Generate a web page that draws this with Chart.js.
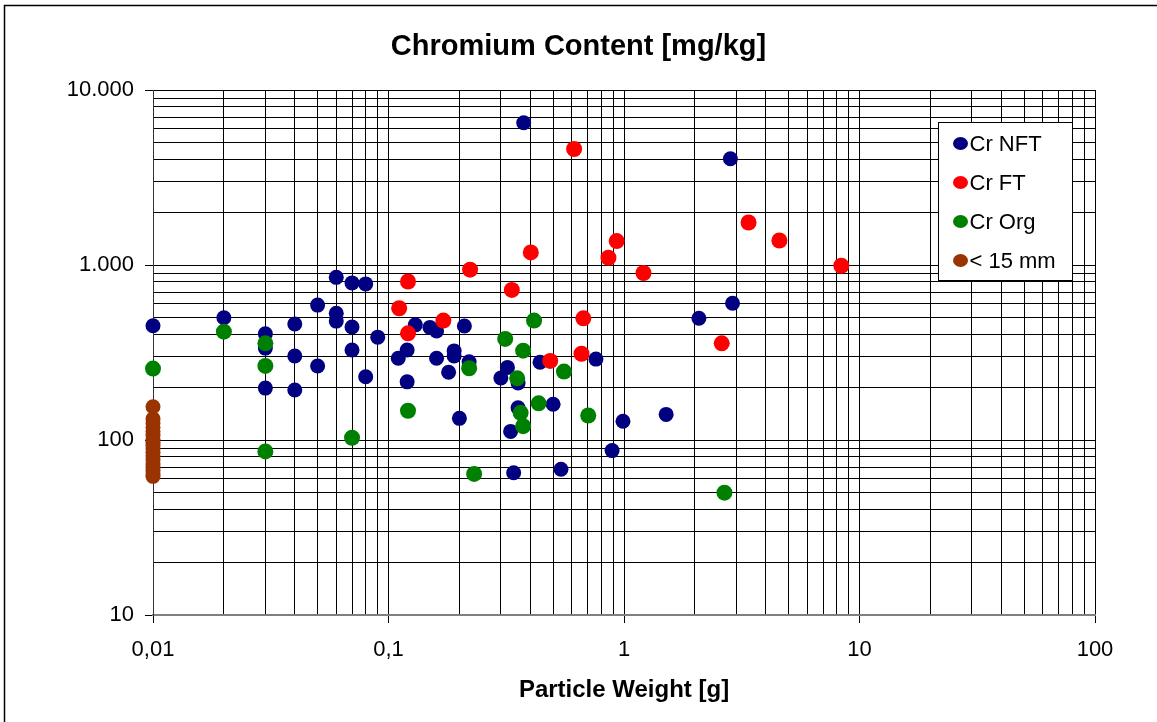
<!DOCTYPE html>
<html><head><meta charset="utf-8">
<script src="https://cdn.jsdelivr.net/npm/chart.js@4.4.1/dist/chart.umd.min.js"></script>
<style>html,body{margin:0;padding:0;background:#fff;}canvas{display:block;}</style>
</head><body>
<canvas id="c" width="1157" height="722"></canvas>
<script>
const chartTitle = 'Chromium Content [mg/kg]';
const xTitle = 'Particle Weight [g]';
const seriesNames = ['Cr NFT', 'Cr FT', 'Cr Org', '< 15 mm'];
const seriesColors = ['#000080', '#FF0000', '#008000', '#993300'];

const nftX = [0.01,0.02,0.03,0.03,0.03,0.04,0.04,0.04,0.05,0.05,0.06,0.06,0.06,0.07,0.07,0.07,0.08,0.08,0.09,0.11,0.12,0.12,0.13,0.15,0.16,0.16,0.19,0.19,0.18,0.21,0.22,0.20,0.32,0.30,0.355,0.44,0.355,0.50,0.33,0.34,0.54,0.76,0.89,0.99,1.51,2.08,2.89,2.83,0.375];
const nftY = [450,500,405,335,198,460,302,193,590,265,850,530,478,790,442,327,780,230,387,293,327,215,455,440,420,293,323,302,244,448,280,133,260,226,212,278,153,160,112,65,68,290,87,128,140,496,604,4050,6500];

const ftX = [0.614,0.402,0.222,0.121,0.334,0.111,3.38,4.57,0.931,0.859,1.21,8.37,2.6,0.672,0.66,0.171,0.121,0.486];
const ftY = [4600,1180,940,805,720,566,1750,1380,1370,1100,900,990,357,496,311,481,407,283];

const orgX = [0.01,0.02,0.03,0.03,0.03,0.07,0.121,0.22,0.231,0.415,0.313,0.373,0.352,0.556,0.434,0.364,0.373,0.705,2.67];
const orgY = [256,416,357,265,86,103,147,257,64,481,378,324,225,246,162,143,120,138,50];

const fineX = [0.01,0.01,0.01,0.01,0.01,0.01,0.01,0.01,0.01,0.01,0.01,0.01,0.01,0.01,0.01,0.01,0.01,0.01];
const fineY = [155,132,125,118,112,106,101,97,93,89,85,81,77,73,70,67,64,62];

const xGridValues = [0.01,0.02,0.03,0.04,0.05,0.06,0.07,0.08,0.09,0.1,0.2,0.3,0.4,0.5,0.6,0.7,0.8,0.9,1,2,3,4,5,6,7,8,9,10,20,30,40,50,60,70,80,90,100];
const yGridValues = [10,20,30,40,50,60,70,80,90,100,200,300,400,500,600,700,800,900,1000,2000,3000,4000,5000,6000,7000,8000,9000,10000];
const xTickValues = [0.01, 0.1, 1, 10, 100];
const xTickLabels = ['0,01', '0,1', '1', '10', '100'];
const yTickValues = [10, 100, 1000, 10000];
const yTickLabels = ['10', '100', '1.000', '10.000'];

const FONT = '"Liberation Sans", Arial, sans-serif';
const pts = (xs, ys) => xs.map((x, i) => ({x: x, y: ys[i]}));
const isMajorX = v => xTickValues.some(t => Math.abs(t - v) / t < 1e-6);
const isMajorY = v => yTickValues.some(t => Math.abs(t - v) / t < 1e-6);

const frame = {
  id: 'frame',
  beforeDraw(chart) {
    const ctx = chart.ctx;
    ctx.save();
    ctx.fillStyle = '#fff';
    ctx.fillRect(0, 0, chart.width, chart.height);
    ctx.strokeStyle = '#000';
    ctx.lineWidth = 1.5;
    ctx.strokeRect(4.5, 5.5, chart.width + 20, chart.height + 20);
    ctx.restore();
  }
};

const boxLegend = {
  id: 'boxLegend',
  afterDatasetsDraw(chart) {
    const ctx = chart.ctx;
    const x0 = 938.5, y0 = 122.5, w = 134, h = 158;
    ctx.save();
    ctx.fillStyle = '#fff';
    ctx.fillRect(x0, y0, w, h);
    ctx.strokeStyle = '#000';
    ctx.lineWidth = 1;
    ctx.strokeRect(x0, y0, w, h);
    ctx.font = '22px ' + FONT;
    ctx.textBaseline = 'middle';
    ctx.textAlign = 'left';
    chart.data.datasets.forEach((ds, i) => {
      const cy = y0 + 21 + i * 39;
      ctx.fillStyle = ds.backgroundColor;
      ctx.beginPath();
      ctx.ellipse(x0 + 22, cy, 7.5, 6.5, 0, 0, Math.PI * 2);
      ctx.fill();
      ctx.fillStyle = '#000';
      ctx.fillText(ds.label, x0 + 31, cy + 1);
    });
    ctx.restore();
  }
};

new Chart(document.getElementById('c'), {
  type: 'scatter',
  data: {
    datasets: [
      {label: seriesNames[0], data: pts(nftX, nftY), backgroundColor: seriesColors[0], pointRadius: 7.5, order: 3, clip: false},
      {label: seriesNames[1], data: pts(ftX, ftY), backgroundColor: seriesColors[1], pointRadius: 8, order: 2, clip: false},
      {label: seriesNames[2], data: pts(orgX, orgY), backgroundColor: seriesColors[2], pointRadius: 8, order: 1, clip: false},
      {label: seriesNames[3], data: pts(fineX, fineY), backgroundColor: seriesColors[3], pointRadius: 7.5, order: 0, clip: false}
    ]
  },
  options: {
    responsive: false,
    animation: false,
    devicePixelRatio: 1,
    elements: {point: {borderWidth: 0, hoverRadius: 8}},
    layout: {padding: {left: 62, right: 62, top: 0, bottom: 0}},
    plugins: {
      legend: {display: false},
      tooltip: {enabled: false},
      title: {
        display: true,
        text: chartTitle,
        color: '#000',
        font: {family: FONT, size: 29, weight: 'bold'},
        padding: {top: 29.6, bottom: 25.6}
      }
    },
    scales: {
      x: {
        type: 'logarithmic',
        min: 0.01, max: 100,
        afterBuildTicks: s => { s.ticks = xGridValues.map(v => ({value: v})); },
        afterFit: s => { s.height = 107; },
        ticks: {
          autoSkip: false, maxRotation: 0, minRotation: 0,
          color: '#000', padding: 14,
          font: {family: FONT, size: 22},
          callback: v => { const i = xTickValues.findIndex(t => Math.abs(t - v) / t < 1e-6); return i >= 0 ? xTickLabels[i] : ''; }
        },
        grid: {
          color: '#000', lineWidth: 1, drawTicks: true, tickLength: 8,
          tickColor: c => (c.tick && isMajorX(c.tick.value)) ? '#000' : 'rgba(0,0,0,0)'
        },
        border: {color: '#808080', width: 2},
        title: {display: true, text: xTitle, color: '#000', font: {family: FONT, size: 24, weight: 'bold'}, padding: {top: 0, bottom: 17}}
      },
      y: {
        type: 'logarithmic',
        min: 10, max: 10000,
        afterBuildTicks: s => { s.ticks = yGridValues.map(v => ({value: v})); },
        afterFit: s => { s.width = 91; },
        ticks: {
          autoSkip: false, color: '#000', padding: 11,
          font: {family: FONT, size: 22},
          callback: v => { const i = yTickValues.findIndex(t => Math.abs(t - v) / t < 1e-6); return i >= 0 ? yTickLabels[i] : ''; }
        },
        grid: {
          color: '#000', lineWidth: 1, drawTicks: true, tickLength: 8,
          tickColor: c => (c.tick && isMajorY(c.tick.value)) ? '#000' : 'rgba(0,0,0,0)'
        },
        border: {color: '#333', width: 1}
      }
    }
  },
  plugins: [frame, boxLegend]
});
</script>
</body></html>
